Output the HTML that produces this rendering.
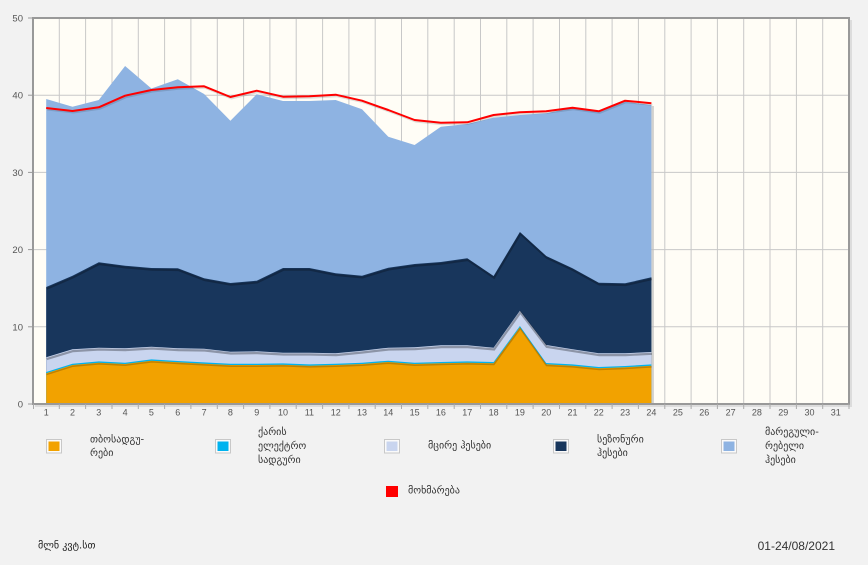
<!DOCTYPE html>
<html><head><meta charset="utf-8"><style>
html,body{margin:0;padding:0;background:#f2f2f2;}
svg{display:block;}
text{font-family:"Liberation Sans","DejaVu Sans",sans-serif;}
.geo{font-family:"DejaVu Sans","Liberation Sans",sans-serif;font-size:10px;fill:#333;}
.yl{font-size:9.5px;fill:#555;text-anchor:end;}
.xl{font-size:9px;fill:#555;text-anchor:middle;}
</style></head><body>
<svg width="868" height="565" viewBox="0 0 868 565" xmlns="http://www.w3.org/2000/svg">
<rect width="868" height="565" fill="#f2f2f2"/>
<!-- plot shadow -->
<rect x="35" y="20" width="817" height="387" fill="#dcdcdc"/>
<rect x="33" y="18" width="816" height="386" fill="#fffdf6"/>
<!-- grid -->
<g stroke="#c8c8c8" stroke-width="1">
<line x1="33" y1="95.2" x2="849" y2="95.2"/>
<line x1="33" y1="172.4" x2="849" y2="172.4"/>
<line x1="33" y1="249.6" x2="849" y2="249.6"/>
<line x1="33" y1="326.8" x2="849" y2="326.8"/>
<line x1="59.3" y1="18" x2="59.3" y2="404"/><line x1="85.6" y1="18" x2="85.6" y2="404"/><line x1="112" y1="18" x2="112" y2="404"/><line x1="138.3" y1="18" x2="138.3" y2="404"/><line x1="164.6" y1="18" x2="164.6" y2="404"/><line x1="190.9" y1="18" x2="190.9" y2="404"/><line x1="217.3" y1="18" x2="217.3" y2="404"/><line x1="243.6" y1="18" x2="243.6" y2="404"/><line x1="269.9" y1="18" x2="269.9" y2="404"/><line x1="296.2" y1="18" x2="296.2" y2="404"/><line x1="322.6" y1="18" x2="322.6" y2="404"/><line x1="348.9" y1="18" x2="348.9" y2="404"/><line x1="375.2" y1="18" x2="375.2" y2="404"/><line x1="401.5" y1="18" x2="401.5" y2="404"/><line x1="427.8" y1="18" x2="427.8" y2="404"/><line x1="454.2" y1="18" x2="454.2" y2="404"/><line x1="480.5" y1="18" x2="480.5" y2="404"/><line x1="506.8" y1="18" x2="506.8" y2="404"/><line x1="533.1" y1="18" x2="533.1" y2="404"/><line x1="559.5" y1="18" x2="559.5" y2="404"/><line x1="585.8" y1="18" x2="585.8" y2="404"/><line x1="612.1" y1="18" x2="612.1" y2="404"/><line x1="638.4" y1="18" x2="638.4" y2="404"/><line x1="664.8" y1="18" x2="664.8" y2="404"/><line x1="691.1" y1="18" x2="691.1" y2="404"/><line x1="717.4" y1="18" x2="717.4" y2="404"/><line x1="743.7" y1="18" x2="743.7" y2="404"/><line x1="770" y1="18" x2="770" y2="404"/><line x1="796.4" y1="18" x2="796.4" y2="404"/><line x1="822.7" y1="18" x2="822.7" y2="404"/>
</g>
<!-- light blue shadow on right edge -->
<rect x="651.4" y="106" width="2.5" height="298" fill="#bdbdbd" opacity="0.7"/>
<!-- light blue (total) -->
<polygon fill="#8eb3e2" points="46.2,404 46.2,99 72.5,106.7 98.8,100 125.1,66 151.4,88.5 177.8,79.3 204.1,94 230.4,120.7 256.7,94.3 283,101 309.4,101 335.7,100 362,109.3 388.3,136.7 414.6,145 440.9,126.7 467.3,124 493.6,117.7 519.9,115 546.2,113.3 572.5,107.7 598.8,111.7 625.1,101.7 651.4,105 651.4,404"/>
<!-- navy -->
<polygon fill="#18365c" points="46.2,404 46.2,287 72.5,275.7 98.8,262.3 125.1,265.7 151.4,268 177.8,268.3 204.1,278.3 230.4,283 256.7,280.7 283,268 309.4,268 335.7,273.3 362,275.7 388.3,267.7 414.6,264 440.9,262 467.3,258.3 493.6,276 519.9,232 546.2,256 572.5,268.3 598.8,282.7 625.1,283.3 651.4,277.3 651.4,404"/>
<polyline fill="none" stroke="#000" stroke-opacity="0.25" stroke-width="2" transform="translate(0.5,1.8)" points="46.2,287 72.5,275.7 98.8,262.3 125.1,265.7 151.4,268 177.8,268.3 204.1,278.3 230.4,283 256.7,280.7 283,268 309.4,268 335.7,273.3 362,275.7 388.3,267.7 414.6,264 440.9,262 467.3,258.3 493.6,276 519.9,232 546.2,256 572.5,268.3 598.8,282.7 625.1,283.3 651.4,277.3"/>
<!-- lavender -->
<polygon fill="#c9d5ef" points="46.2,404 46.2,357.3 72.5,349.3 98.8,347.7 125.1,348.3 151.4,346.7 177.8,348.3 204.1,348.7 230.4,351.7 256.7,351.3 283,352.7 309.4,352.7 335.7,353.3 362,350.7 388.3,347.7 414.6,347.3 440.9,345.3 467.3,345.3 493.6,347.7 519.9,310.7 546.2,345 572.5,349.3 598.8,353.3 625.1,353.3 651.4,352 651.4,404"/>
<polyline fill="none" stroke="#000" stroke-opacity="0.3" stroke-width="2.2" transform="translate(0.5,1.8)" points="46.2,357.3 72.5,349.3 98.8,347.7 125.1,348.3 151.4,346.7 177.8,348.3 204.1,348.7 230.4,351.7 256.7,351.3 283,352.7 309.4,352.7 335.7,353.3 362,350.7 388.3,347.7 414.6,347.3 440.9,345.3 467.3,345.3 493.6,347.7 519.9,310.7 546.2,345 572.5,349.3 598.8,353.3 625.1,353.3 651.4,352"/>
<!-- cyan -->
<polygon fill="#00b3ef" points="46.2,404 46.2,372 72.5,363.7 98.8,361.4 125.1,362.7 151.4,359.4 177.8,361 204.1,362.4 230.4,363.7 256.7,363.7 283,363.4 309.4,364.4 335.7,363.7 362,362.7 388.3,360.7 414.6,362.7 440.9,362 467.3,361.4 493.6,362 519.9,326 546.2,363 572.5,364.4 598.8,367 625.1,366 651.4,364.4 651.4,404"/>
<!-- orange -->
<polygon fill="#f2a200" points="46.2,404 46.2,373.3 72.5,365 98.8,362.7 125.1,364 151.4,360.7 177.8,362.3 204.1,363.7 230.4,365 256.7,365 283,364.7 309.4,365.7 335.7,365 362,364 388.3,362 414.6,364 440.9,363.3 467.3,362.7 493.6,363.3 519.9,327.3 546.2,364.3 572.5,365.7 598.8,368.3 625.1,367.3 651.4,365.7 651.4,404"/>
<polyline fill="none" stroke="#000" stroke-opacity="0.2" stroke-width="1.5" transform="translate(0.3,1.2)" points="46.2,373.3 72.5,365 98.8,362.7 125.1,364 151.4,360.7 177.8,362.3 204.1,363.7 230.4,365 256.7,365 283,364.7 309.4,365.7 335.7,365 362,364 388.3,362 414.6,364 440.9,363.3 467.3,362.7 493.6,363.3 519.9,327.3 546.2,364.3 572.5,365.7 598.8,368.3 625.1,367.3 651.4,365.7"/>
<!-- red line -->
<polyline fill="none" stroke="#000" stroke-opacity="0.12" stroke-width="2" transform="translate(1,1.5)" points="46.2,108 72.5,111 98.8,107.3 125.1,95.7 151.4,90 177.8,87.3 204.1,86.3 230.4,97 256.7,90.7 283,96.7 309.4,96.3 335.7,94.7 362,100.7 388.3,110 414.6,120 440.9,122.7 467.3,122.3 493.6,115 519.9,112.3 546.2,111.3 572.5,107.7 598.8,111.3 625.1,100.7 651.4,103.3"/>
<polyline fill="none" stroke="#ff0000" stroke-width="2" stroke-linejoin="round" points="46.2,108 72.5,111 98.8,107.3 125.1,95.7 151.4,90 177.8,87.3 204.1,86.3 230.4,97 256.7,90.7 283,96.7 309.4,96.3 335.7,94.7 362,100.7 388.3,110 414.6,120 440.9,122.7 467.3,122.3 493.6,115 519.9,112.3 546.2,111.3 572.5,107.7 598.8,111.3 625.1,100.7 651.4,103.3"/>
<!-- frame -->
<rect x="33" y="18" width="816" height="386" fill="none" stroke="#999" stroke-width="2"/>
<!-- y ticks -->
<g stroke="#999" stroke-width="1">
<line x1="28" y1="18" x2="33" y2="18"/><line x1="28" y1="95.2" x2="33" y2="95.2"/><line x1="28" y1="172.4" x2="33" y2="172.4"/><line x1="28" y1="249.6" x2="33" y2="249.6"/><line x1="28" y1="326.8" x2="33" y2="326.8"/><line x1="28" y1="404" x2="33" y2="404"/>
</g>
<g class="yl">
<text x="23" y="21.5" class="yl">50</text>
<text x="23" y="98.7" class="yl">40</text>
<text x="23" y="175.9" class="yl">30</text>
<text x="23" y="253.1" class="yl">20</text>
<text x="23" y="330.3" class="yl">10</text>
<text x="23" y="407.5" class="yl">0</text>
</g>
<!-- x ticks -->
<g stroke="#aaa" stroke-width="1">
<line x1="33.5" y1="404" x2="33.5" y2="409"/><line x1="59.3" y1="404" x2="59.3" y2="409"/><line x1="85.6" y1="404" x2="85.6" y2="409"/><line x1="112" y1="404" x2="112" y2="409"/><line x1="138.3" y1="404" x2="138.3" y2="409"/><line x1="164.6" y1="404" x2="164.6" y2="409"/><line x1="190.9" y1="404" x2="190.9" y2="409"/><line x1="217.3" y1="404" x2="217.3" y2="409"/><line x1="243.6" y1="404" x2="243.6" y2="409"/><line x1="269.9" y1="404" x2="269.9" y2="409"/><line x1="296.2" y1="404" x2="296.2" y2="409"/><line x1="322.6" y1="404" x2="322.6" y2="409"/><line x1="348.9" y1="404" x2="348.9" y2="409"/><line x1="375.2" y1="404" x2="375.2" y2="409"/><line x1="401.5" y1="404" x2="401.5" y2="409"/><line x1="427.8" y1="404" x2="427.8" y2="409"/><line x1="454.2" y1="404" x2="454.2" y2="409"/><line x1="480.5" y1="404" x2="480.5" y2="409"/><line x1="506.8" y1="404" x2="506.8" y2="409"/><line x1="533.1" y1="404" x2="533.1" y2="409"/><line x1="559.5" y1="404" x2="559.5" y2="409"/><line x1="585.8" y1="404" x2="585.8" y2="409"/><line x1="612.1" y1="404" x2="612.1" y2="409"/><line x1="638.4" y1="404" x2="638.4" y2="409"/><line x1="664.8" y1="404" x2="664.8" y2="409"/><line x1="691.1" y1="404" x2="691.1" y2="409"/><line x1="717.4" y1="404" x2="717.4" y2="409"/><line x1="743.7" y1="404" x2="743.7" y2="409"/><line x1="770" y1="404" x2="770" y2="409"/><line x1="796.4" y1="404" x2="796.4" y2="409"/><line x1="822.7" y1="404" x2="822.7" y2="409"/><line x1="849" y1="404" x2="849" y2="409"/>
</g>
<g>
<text class="xl" x="46.2" y="415.5">1</text><text class="xl" x="72.5" y="415.5">2</text><text class="xl" x="98.8" y="415.5">3</text><text class="xl" x="125.1" y="415.5">4</text><text class="xl" x="151.4" y="415.5">5</text><text class="xl" x="177.8" y="415.5">6</text><text class="xl" x="204.1" y="415.5">7</text><text class="xl" x="230.4" y="415.5">8</text><text class="xl" x="256.7" y="415.5">9</text><text class="xl" x="283" y="415.5">10</text><text class="xl" x="309.4" y="415.5">11</text><text class="xl" x="335.7" y="415.5">12</text><text class="xl" x="362" y="415.5">13</text><text class="xl" x="388.3" y="415.5">14</text><text class="xl" x="414.6" y="415.5">15</text><text class="xl" x="440.9" y="415.5">16</text><text class="xl" x="467.3" y="415.5">17</text><text class="xl" x="493.6" y="415.5">18</text><text class="xl" x="519.9" y="415.5">19</text><text class="xl" x="546.2" y="415.5">20</text><text class="xl" x="572.5" y="415.5">21</text><text class="xl" x="598.8" y="415.5">22</text><text class="xl" x="625.1" y="415.5">23</text><text class="xl" x="651.4" y="415.5">24</text><text class="xl" x="677.9" y="415.5">25</text><text class="xl" x="704.2" y="415.5">26</text><text class="xl" x="730.6" y="415.5">27</text><text class="xl" x="756.9" y="415.5">28</text><text class="xl" x="783.2" y="415.5">29</text><text class="xl" x="809.5" y="415.5">30</text><text class="xl" x="835.8" y="415.5">31</text>
</g>
<!-- legend -->
<g>
<rect x="46.5" y="439.5" width="15" height="13.5" fill="#fafafa" stroke="#c8c8c8"/>
<rect x="48.5" y="441.5" width="11" height="9.5" fill="#f2a200"/>
<text class="geo" x="90" y="442.5">თბოსადგუ-</text>
<text class="geo" x="90" y="456">რები</text>

<rect x="215.5" y="439.5" width="15" height="13.5" fill="#fafafa" stroke="#c8c8c8"/>
<rect x="217.5" y="441.5" width="11" height="9.5" fill="#00b3ef"/>
<text class="geo" x="258" y="435">ქარის</text>
<text class="geo" x="258" y="449">ელექტრო</text>
<text class="geo" x="258" y="463">სადგური</text>

<rect x="384.5" y="439.5" width="15" height="13.5" fill="#fafafa" stroke="#c8c8c8"/>
<rect x="386.5" y="441.5" width="11" height="9.5" fill="#c9d5ef"/>
<text class="geo" x="428" y="448.5">მცირე ჰესები</text>

<rect x="553.5" y="439.5" width="15" height="13.5" fill="#fafafa" stroke="#c8c8c8"/>
<rect x="555.5" y="441.5" width="11" height="9.5" fill="#18365c"/>
<text class="geo" x="597" y="442.5">სეზონური</text>
<text class="geo" x="597" y="456">ჰესები</text>

<rect x="721.5" y="439.5" width="15" height="13.5" fill="#fafafa" stroke="#c8c8c8"/>
<rect x="723.5" y="441.5" width="11" height="9.5" fill="#8eb3e2"/>
<text class="geo" x="765" y="435">მარეგული-</text>
<text class="geo" x="765" y="449">რებელი</text>
<text class="geo" x="765" y="463">ჰესები</text>

<rect x="386" y="486" width="12" height="11" fill="#ff0000"/>
<text class="geo" x="408" y="493.5">მოხმარება</text>
</g>
<text class="geo" x="38" y="548.5" style="fill:#222">მლნ კვტ.სთ</text>
<text x="835" y="550" text-anchor="end" style="font-size:12px;fill:#333">01-24/08/2021</text>
</svg>
</body></html>
